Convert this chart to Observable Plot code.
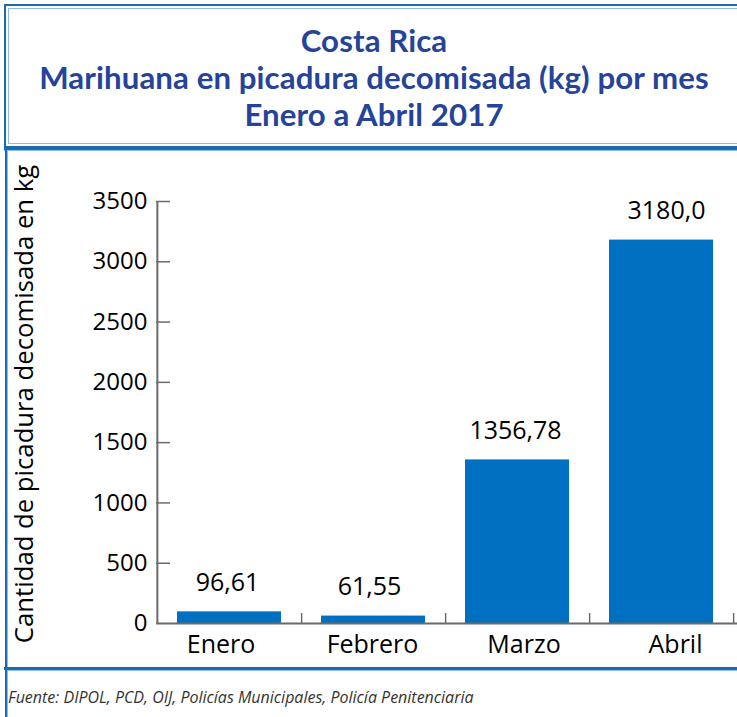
<!DOCTYPE html>
<html>
<head>
<meta charset="utf-8">
<script src="https://cdn.jsdelivr.net/npm/d3@7"></script>
<script src="https://cdn.jsdelivr.net/npm/@observablehq/plot@0.6"></script>
<style>
  html, body { margin: 0; padding: 0; background: #fff; }
  body { width: 737px; height: 717px; position: relative; overflow: hidden; font-family: "Open Sans", sans-serif; }
  #titlebox {
    position: absolute; left: 4px; top: 4px; width: 760px; height: 140px;
    border: 2px solid #1a6cb2; box-shadow: inset 0 0 0 2px #fff, inset 0 0 0 3px #8dbde3;
  }
  #title {
    position: absolute; left: 0; top: 22px; width: 748px; text-align: center;
    font-family: Lato, sans-serif; font-weight: 700; font-size: 31.2px; line-height: 37px; color: #24439a;
    letter-spacing: 0.1px;
  }
  #sep1 { position: absolute; left: 4px; top: 147px; width: 760px; height: 3px; background: #1a6cb2; }
  #sep1b { position: absolute; left: 4px; top: 150px; width: 760px; height: 1px; background: #8dbde3; }
  #leftline { position: absolute; left: 5px; top: 147px; width: 2px; height: 570px; background: #1a6cb2; }
  #leftlineb { position: absolute; left: 7px; top: 151px; width: 1px; height: 566px; background: #8dbde3; }
  #sep2 { position: absolute; left: 4px; top: 667px; width: 760px; height: 3px; background: #1a6cb2; }
  #sep2b { position: absolute; left: 7px; top: 670px; width: 760px; height: 1px; background: #8dbde3; }
  #chart { position: absolute; left: 0; top: 150px; }
  #ylabel {
    position: absolute; left: 23px; top: 404px; transform: translate(-50%, -50%) rotate(-90deg);
    white-space: nowrap; font-size: 25.7px; color: #000;
  }
  #footer {
    position: absolute; left: 8px; top: 686px; font-style: italic; font-size: 16px; color: #333;
    white-space: nowrap;
  }
</style>
</head>
<body>
<div id="titlebox"></div>
<div id="title">Costa Rica<br>Marihuana en picadura decomisada (kg) por mes<br>Enero a Abril 2017</div>
<div id="sep1"></div><div id="sep1b"></div>
<div id="leftline"></div><div id="leftlineb"></div>
<div id="sep2"></div><div id="sep2b"></div>
<div id="chart"></div>
<div id="ylabel">Cantidad de picadura decomisada en kg</div>
<div id="footer">Fuente: DIPOL, PCD, OIJ, Policías Municipales, Policía Penitenciaria</div>
<script>
const months = ["Enero", "Febrero", "Marzo", "Abril"];
const values = [96.61, 61.55, 1356.78, 3180.0];
const valueLabels = ["96,61", "61,55", "1356,78", "3180,0"];
const yTicks = [0, 500, 1000, 1500, 2000, 2500, 3000, 3500];

const data = months.map((m, i) => ({month: m, value: values[i], label: valueLabels[i]}));

const W = 737, H = 518, mL = 156, mR = 4, mT = 51, mB = 45;
const plotW = W - mL - mR, plotH = H - mT - mB;
const step = plotW / months.length;
const axisColor = "#6b6b6b";
const labelShift = [-8.5, -1, 6.5, 14];
const valueShift = [-2, -4, -2, 5];

const chart = Plot.plot({
  width: W, height: H,
  marginLeft: mL, marginRight: mR, marginTop: mT, marginBottom: mB,
  style: {fontFamily: "Open Sans, sans-serif", color: "#000", background: "transparent"},
  x: {domain: months, paddingInner: 0.279, paddingOuter: 0.1395, align: 0.5},
  y: {domain: [0, 3500], ticks: yTicks},
  marks: [
    Plot.barY(data, {x: "month", y: "value", fill: "#0070c0"}),
    ...data.map((d, i) => Plot.text([d], {x: "month", y: "value", text: "label", dy: -29, dx: valueShift[i], lineAnchor: "middle", fontSize: 25, fill: "#000"})),
    // y axis line
    Plot.ruleX([months[0]], {x: d => d, dx: -step / 2, stroke: axisColor, strokeWidth: 2}),
    // y ticks pointing inward
    Plot.ruleY(yTicks.filter(d => d > 0), {y: d => d, insetRight: plotW - 14, stroke: axisColor, strokeWidth: 1.5}),
    Plot.axisY({ticks: yTicks, tickSize: 0, tickPadding: 9, fontSize: 24, tickFormat: d => String(d), label: null}),
    // baseline
    Plot.ruleY([0], {stroke: axisColor, strokeWidth: 2, insetRight: -4}),
    // x ticks at band boundaries pointing up
    Plot.ruleX(months, {x: d => d, dx: step / 2, insetTop: plotH - 10, stroke: axisColor, strokeWidth: 1.5}),
    ...months.map((m, i) => Plot.axisX([m], {tickSize: 0, tickPadding: 12, fontSize: 25, dx: labelShift[i], label: null}))
  ]
});
document.getElementById("chart").appendChild(chart);
</script>
</body>
</html>
